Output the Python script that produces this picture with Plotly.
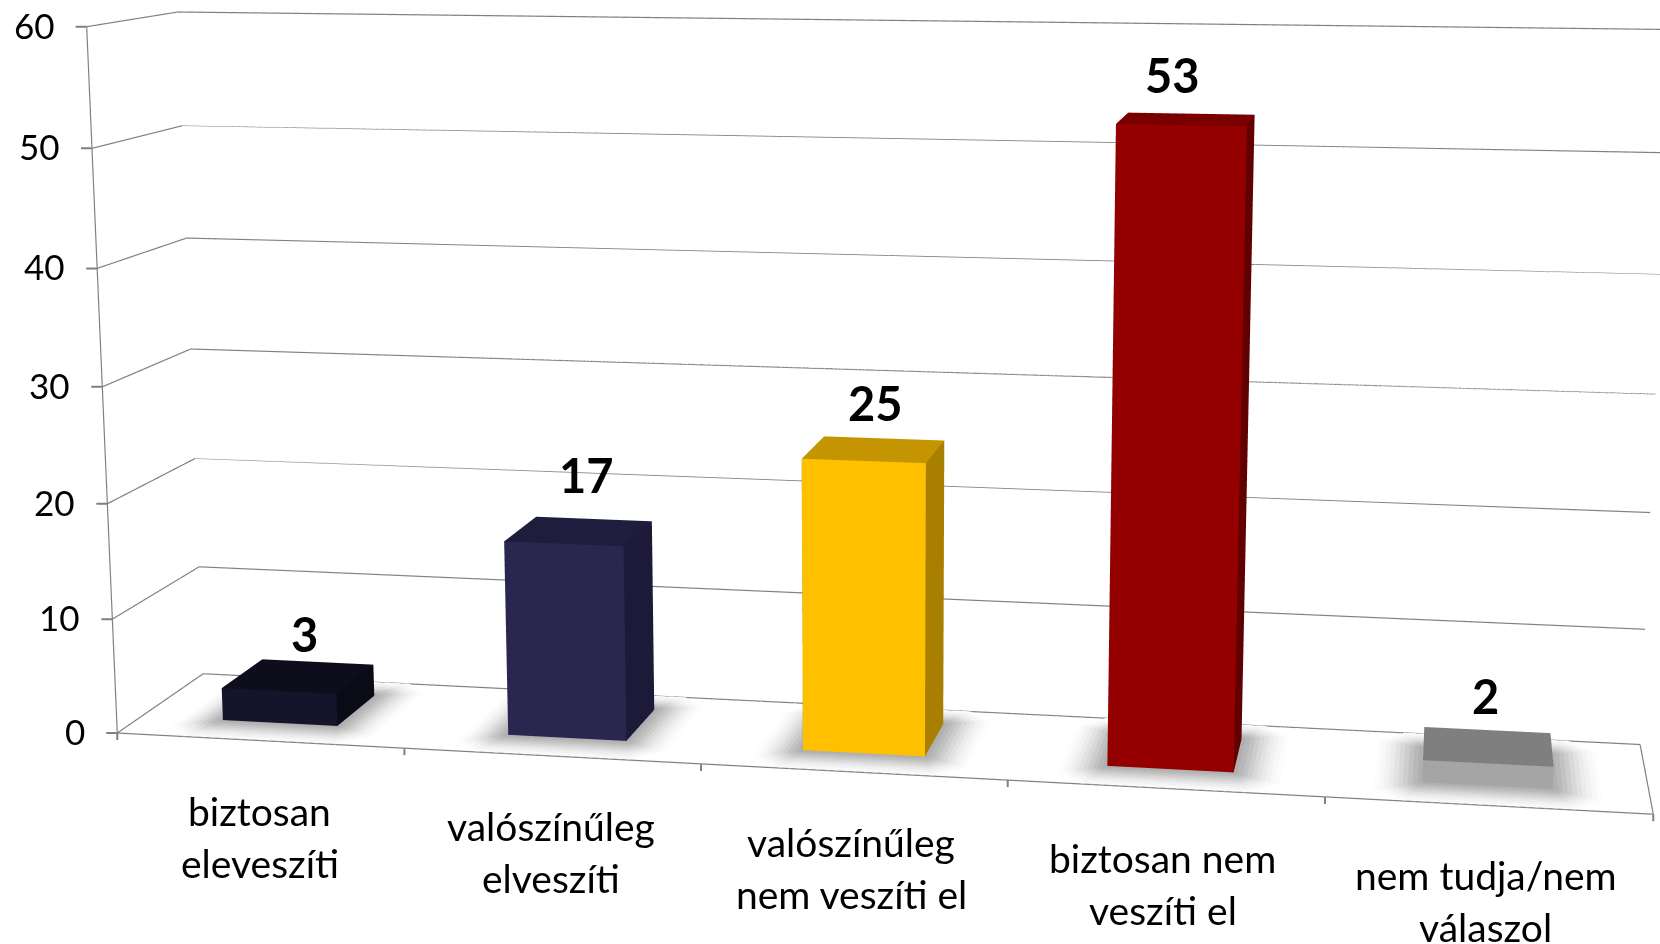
import plotly.graph_objects as go

# ---- data ----
categories = ["biztosan<br>eleveszíti", "valószínűleg<br>elveszíti", "valószínűleg<br>nem veszíti el",
              "biztosan nem<br>veszíti el", "nem tudja/nem<br>válaszol"]
values = [3, 17, 25, 53, 2]
ytick_values = [0, 10, 20, 30, 40, 50, 60]
front_colors = ["#14142a", "#29264f", "#ffc000", "#940000", "#a5a5a5"]
side_colors = ["#0b0b18", "#1c1a38", "#a87f00", "#600000", "#a5a5a5"]
top_colors = ["#0d0d1c", "#1f1d3d", "#c49500", "#7a0000", "#7f7f7f"]

# ---- view ----
VIEW_W, VIEW_H = 1800, 2675
CENTER_X, CENTER_Y = 874, 390      # where the box centre sits in the window
BAR_W, BAR_D = 0.405, 0.50
FONT = "Lato"
GRID = "#808080"
N = len(values)
LABEL_DX = [6, 7, 1, -14, -2]
LABEL_DY = [-2, 12, 3, 0, 6]
CAT_DX = [0, 0, -2, -2, -2]


def box(i, v, w=BAR_W, d=BAR_D, z0=0.0):
    x0, x1 = i + 0.5 - w / 2, i + 0.5 + w / 2
    y0, y1 = 0.5 - d / 2, 0.5 + d / 2
    xs = [x0, x1, x1, x0, x0, x1, x1, x0]
    ys = [y0, y0, y1, y1, y0, y0, y1, y1]
    zs = [z0, z0, z0, z0, v, v, v, v]
    return xs, ys, zs


def shadow(i, mx, my, z, col):
    x0, x1 = i + 0.5 - BAR_W / 2 - mx, i + 0.5 + BAR_W / 2 + mx
    y0, y1 = 0.5 - BAR_D / 2 - my, 0.5 + BAR_D / 2 + my
    cx, cy = mx * 0.6, my * 0.6
    xs = [x0 + cx, x1 - cx, x1, x1, x1 - cx, x0 + cx, x0, x0]
    ys = [y0, y0, y0 + cy, y1 - cy, y1, y1, y1 - cy, y0 + cy]
    return go.Mesh3d(x=xs, y=ys, z=[z] * 8, i=[0] * 6, j=list(range(1, 7)), k=list(range(2, 8)),
                     color=col, flatshading=True, lighting=LIGHT, hoverinfo="skip", showscale=False)


LIGHT = dict(ambient=1, diffuse=0, specular=0, roughness=1, fresnel=0)
data = []

# soft floor shadows, from the lightest ring to the darkest
grays = ["#fcfcfc", "#f8f8f8", "#f2f2f2", "#ebebeb", "#e2e2e2", "#d8d8d8", "#cdcdcd", "#c2c2c2", "#b8b8b8", "#b0b0b0"]
for n in range(N):
    for k, col in enumerate(grays):
        t = 1 - k / len(grays)
        data.append(shadow(n, 0.15 * t, 0.26 * t, 0.02 + 0.015 * k, col))


def line3d(xs, ys, zs):
    return go.Scatter3d(x=xs, y=ys, z=zs, mode="lines", line=dict(color=GRID, width=2.4),
                        hoverinfo="skip", showlegend=False)


# grid on the left and back walls (thickens the axis grid below)
for v in ytick_values:
    data.append(line3d([0, 0, N], [0, 1, 1], [v, v, v]))
# axis line and floor frame
data.append(line3d([0, 0], [0, 0], [0, 60]))
data.append(line3d([0, N, N], [0, 0, 1], [0, 0, 0]))

# bars
for n, v in enumerate(values):
    xs, ys, zs = box(n, v)
    I = [0, 0, 1, 1, 4, 4, 3, 3, 0, 0]
    J = [1, 5, 2, 6, 5, 6, 2, 6, 3, 7]
    K = [5, 4, 6, 5, 6, 7, 6, 7, 7, 4]
    fc = [front_colors[n]] * 2 + [side_colors[n]] * 2 + [top_colors[n]] * 2 + [side_colors[n]] * 4
    data.append(go.Mesh3d(x=xs, y=ys, z=zs, i=I, j=J, k=K, facecolor=fc, flatshading=True,
                          lighting=LIGHT, name=categories[n].replace("<br>", " ")))

# annotations
tick_style = dict(text=" ", showarrow=True, arrowhead=0, arrowwidth=2, arrowcolor=GRID, standoff=0, startstandoff=0)
ann = []
for v in ytick_values:
    ann.append(dict(x=0, y=0, z=v, ax=-14, ay=0, **tick_style))
    ann.append(dict(x=0, y=0, z=v, text=str(v), showarrow=False, xanchor="right", yanchor="middle",
                    xshift=-30, yshift=2, font=dict(family=FONT, size=35, color="#000")))
for t in range(N + 1):
    ann.append(dict(x=t, y=0, z=0, ax=0, ay=17, **tick_style))
for n, v in enumerate(values):
    ann.append(dict(x=n + 0.5, y=0.5, z=v, text=f"<b>{v}</b>", showarrow=False, xanchor="center",
                    yanchor="bottom", xshift=LABEL_DX[n], yshift=14 + LABEL_DY[n],
                    font=dict(family=FONT, size=47, color="#000")))
for n, c in enumerate(categories):
    for ln, t in enumerate(c.split("<br>")):
        ann.append(dict(x=n + 0.5, y=0, z=0, text=t, showarrow=False, xanchor="center",
                        yanchor="middle", xshift=CAT_DX[n], yshift=-70 - 52 * ln,
                        font=dict(family=FONT, size=39, color="#000")))

axis_common = dict(showbackground=False, showspikes=False, zeroline=False, showticklabels=False,
                   showline=False, ticks="", title=dict(text=""))
fig = go.Figure(data)
fig.update_layout(
    width=VIEW_W, height=VIEW_H, margin=dict(l=0, r=0, t=0, b=0), showlegend=False,
    paper_bgcolor="white",
    scene=dict(
        domain=dict(x=[0, 1], y=[0, 1]),
        aspectmode="manual", aspectratio=dict(x=1, y=0.152, z=0.47),
        camera=dict(eye=dict(x=0.365, y=-2.036, z=0.375), center=dict(x=0, y=0, z=0),
                    up=dict(x=0.0075, y=0, z=1), projection=dict(type="perspective")),
        xaxis=dict(range=[0, N], tickvals=list(range(N + 1)), showgrid=False, **axis_common),
        yaxis=dict(range=[0, 1], tickvals=[], showgrid=False, **axis_common),
        zaxis=dict(range=[0, 60], tickvals=ytick_values, showgrid=True, gridcolor="#808080", gridwidth=1,
                   **axis_common),
        annotations=ann,
    ),
)
left = CENTER_X - VIEW_W / 2
top = CENTER_Y - VIEW_H / 2
post = ("var d=document.getElementById('{plot_id}');d.style.position='absolute';"
        f"d.style.left='{left}px';d.style.top='{top}px';"
        "document.documentElement.style.overflow='hidden';document.body.style.overflow='hidden';"
        "document.body.style.margin='0';document.documentElement.style.height='944px';document.body.style.height='944px';")
fig.write_html("out.html", post_script=post, config=dict(displayModeBar=False))
